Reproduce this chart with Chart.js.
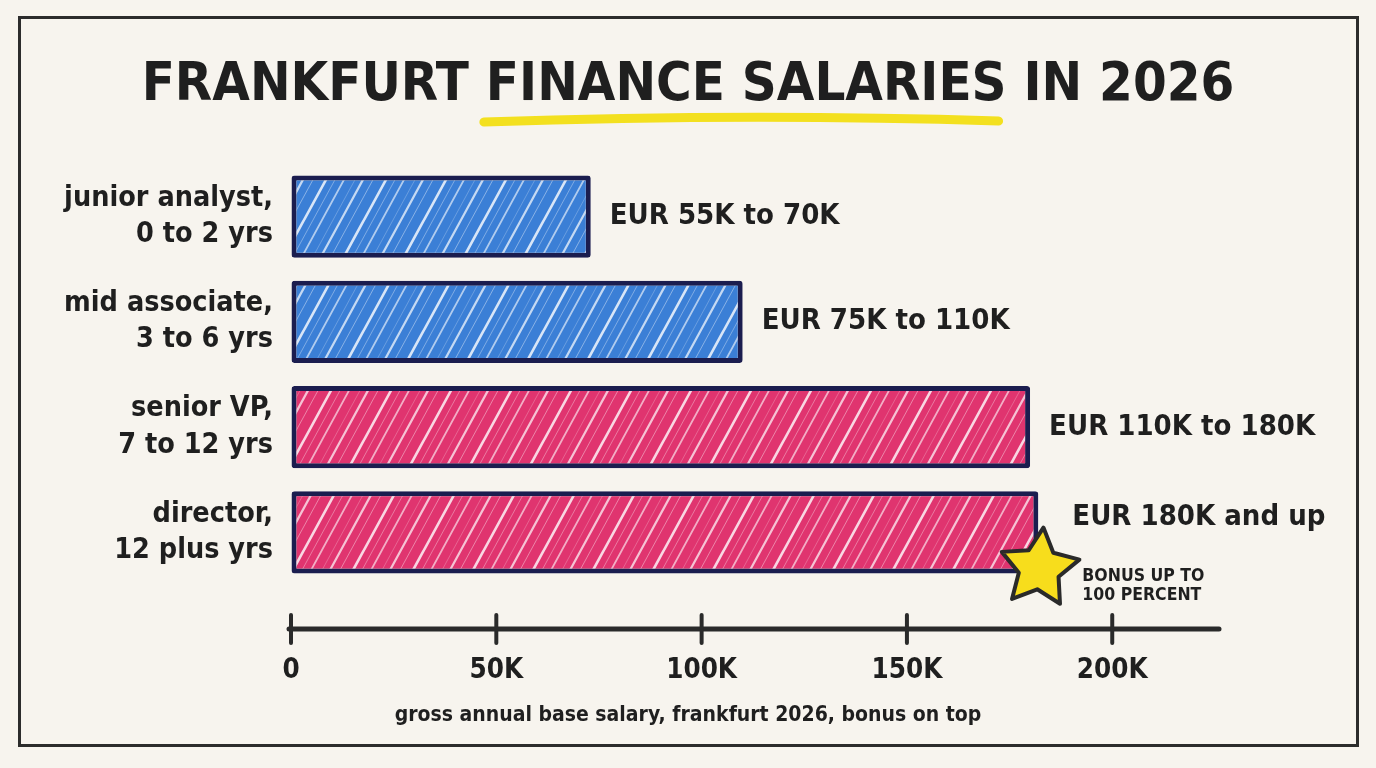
<!DOCTYPE html>
<html>
<head>
<meta charset="utf-8">
<script src="https://cdn.jsdelivr.net/npm/chart.js@4.4.1/dist/chart.umd.min.js"></script>
<style>
    html, body { margin: 0; padding: 0; background: #f7f4ee; }
    #quadro { width: 1376px; height: 768px; }
</style>
</head>
<body>
<div id="quadro"><canvas id="graficoSalarios"></canvas></div>
<script>
// dados do grafico (valores em milhares de EUR)
var categorias = [
    ["junior analyst,", "0 to 2 yrs"],
    ["mid associate,", "3 to 6 yrs"],
    ["senior VP,", "7 to 12 yrs"],
    ["director,", "12 plus yrs"]
];
var salarioBase = [73, 110, 180, 182];
var faixasTexto = ["EUR 55K to 70K", "EUR 75K to 110K", "EUR 110K to 180K", "EUR 180K and up"];
var ticksEixoX = [0, 50, 100, 150, 200];
var notaBonus = ["BONUS UP TO", "100 PERCENT"];
var titulo = "FRANKFURT FINANCE SALARIES IN 2026";
var tituloDestaque = "FINANCE SALARIES";
var rodape = "gross annual base salary, frankfurt 2026, bonus on top";

var fonteTitulo = '"DejaVu Sans Condensed", "DejaVu Sans", sans-serif';
var fonteTexto = '"DejaVu Sans Condensed", "DejaVu Sans", sans-serif';
var corTexto = '#1f1f1f';

// Cria um padrao "rabiscado" (hachura diagonal) para o preenchimento das barras
function criarPadrao(corBase) {
    var c = document.createElement('canvas');
    var w = 60, h = 110;
    c.width = w;
    c.height = h;
    var g = c.getContext('2d');
    g.fillStyle = corBase;
    g.fillRect(0, 0, w, h);
    var tracos = [
        {x: 4, largura: 2.6, alfa: 0.8},
        {x: 13, largura: 1.0, alfa: 0.35},
        {x: 22, largura: 1.8, alfa: 0.6},
        {x: 33, largura: 0.8, alfa: 0.3},
        {x: 41, largura: 2.2, alfa: 0.7},
        {x: 51, largura: 1.0, alfa: 0.4}
    ];
    g.lineCap = 'round';
    tracos.forEach(function(t) {
        g.strokeStyle = 'rgba(255,255,255,' + t.alfa + ')';
        g.lineWidth = t.largura;
        [-w, 0, w].forEach(function(d) {
            g.beginPath();
            g.moveTo(t.x + d, h);
            g.lineTo(t.x + d + w, 0);
            g.stroke();
        });
    });
    return g.createPattern(c, 'repeat');
}

function desenharEstrela(ctx, cx, cy, rExt, rInt, rot) {
    ctx.beginPath();
    for (var i = 0; i < 10; i++) {
        var r = (i % 2 === 0) ? rExt : rInt;
        var ang = rot - Math.PI / 2 + i * Math.PI / 5;
        var px = cx + r * Math.cos(ang);
        var py = cy + r * Math.sin(ang);
        if (i === 0) ctx.moveTo(px, py); else ctx.lineTo(px, py);
    }
    ctx.closePath();
    ctx.fillStyle = '#f7dd1c';
    ctx.fill();
    ctx.lineJoin = 'round';
    ctx.lineWidth = 4;
    ctx.strokeStyle = '#2a2a2a';
    ctx.stroke();
}

// Fundo, moldura, titulo e rodape
var pluginMoldura = {
    id: 'moldura',
    beforeDraw: function(chart) {
        var ctx = chart.ctx;
        ctx.save();
        ctx.fillStyle = '#f7f4ee';
        ctx.fillRect(0, 0, chart.width, chart.height);
        ctx.strokeStyle = '#2c2c2c';
        ctx.lineWidth = 3;
        ctx.strokeRect(19.5, 17.5, 1338, 728);

        // titulo
        var cx = chart.width / 2;
        ctx.font = 'bold 54px ' + fonteTitulo;
        var larguraTotal = ctx.measureText(titulo).width;
        var inicio = titulo.indexOf(tituloDestaque);
        var xIni = cx - larguraTotal / 2 + ctx.measureText(titulo.substring(0, inicio)).width;
        var xFim = xIni + ctx.measureText(tituloDestaque).width;

        // sublinhado amarelo
        ctx.strokeStyle = '#f3e01f';
        ctx.lineWidth = 9;
        ctx.lineCap = 'round';
        ctx.beginPath();
        ctx.moveTo(xIni - 2, 122);
        ctx.quadraticCurveTo((xIni + xFim) / 2, 113, xFim - 8, 121);
        ctx.stroke();

        ctx.fillStyle = corTexto;
        ctx.textAlign = 'center';
        ctx.textBaseline = 'middle';
        ctx.fillText(titulo, cx, 86);

        // rodape
        ctx.font = '600 21px ' + fonteTexto;
        ctx.fillText(rodape, cx, 716);
        ctx.restore();
    }
};

// Eixo X desenhado a mao abaixo das barras + rotulos das faixas + estrela
var pluginAnotacoes = {
    id: 'anotacoes',
    afterDraw: function(chart) {
        var ctx = chart.ctx;
        var area = chart.chartArea;
        var escalaX = chart.scales.x;
        var yEixo = area.bottom + 44;
        ctx.save();
        ctx.strokeStyle = '#2a2a2a';
        ctx.lineCap = 'round';
        ctx.lineWidth = 5;
        ctx.beginPath();
        ctx.moveTo(escalaX.getPixelForValue(0) - 2, yEixo);
        ctx.lineTo(area.right, yEixo);
        ctx.stroke();
        ctx.lineWidth = 4;
        ticksEixoX.forEach(function(v) {
            var x = escalaX.getPixelForValue(v);
            ctx.beginPath();
            ctx.moveTo(x, yEixo - 14);
            ctx.lineTo(x, yEixo + 14);
            ctx.stroke();
        });

        var barras = chart.getDatasetMeta(0).data;
        ctx.fillStyle = corTexto;
        ctx.textAlign = 'left';
        ctx.textBaseline = 'middle';
        ctx.font = '600 29px ' + fonteTexto;
        barras.forEach(function(barra, i) {
            if (i === barras.length - 1) {
                ctx.fillText(faixasTexto[i], barra.x + 34, barra.y - 15);
            } else {
                ctx.fillText(faixasTexto[i], barra.x + 19, barra.y);
            }
        });

        var ultima = barras[barras.length - 1];
        desenharEstrela(ctx, ultima.x + 1, ultima.y + 36, 41, 21, 0.1);
        ctx.fillStyle = corTexto;
        ctx.font = '600 17.5px ' + fonteTexto;
        ctx.fillText(notaBonus[0], ultima.x + 44, ultima.y + 44);
        ctx.fillText(notaBonus[1], ultima.x + 44, ultima.y + 63);
        ctx.restore();
    }
};

function criarGrafico() {
    var azul = criarPadrao('#3b7fd6');
    var rosa = criarPadrao('#e0346f');
    var ctx = document.getElementById('graficoSalarios').getContext('2d');
    var grafico = new Chart(ctx, {
        type: 'bar',
        data: {
            labels: categorias,
            datasets: [{
                data: salarioBase,
                backgroundColor: [azul, azul, rosa, rosa],
                borderColor: '#1b1d4f',
                borderWidth: 5,
                borderRadius: 3,
                borderSkipped: false,
                categoryPercentage: 1,
                barPercentage: 0.78
            }]
        },
        options: {
            indexAxis: 'y',
            responsive: true,
            maintainAspectRatio: false,
            animation: false,
            layout: {
                padding: { top: 164, left: 30, right: 157, bottom: 74 }
            },
            plugins: {
                legend: { display: false },
                tooltip: { enabled: false },
                title: { display: false }
            },
            scales: {
                x: {
                    min: 0,
                    max: 226,
                    border: { display: false },
                    grid: {
                        drawOnChartArea: false,
                        drawTicks: true,
                        tickLength: 62,
                        tickColor: 'rgba(0,0,0,0)'
                    },
                    afterBuildTicks: function(escala) {
                        escala.ticks = ticksEixoX.map(function(v) { return {value: v}; });
                    },
                    ticks: {
                        padding: 7,
                        color: corTexto,
                        font: { family: fonteTexto, size: 27.5, weight: '600' },
                        callback: function(v) { return v === 0 ? '0' : v + 'K'; }
                    }
                },
                y: {
                    border: { display: false },
                    grid: { display: false, drawTicks: false },
                    afterFit: function(escala) { escala.width = 261; },
                    ticks: {
                        padding: 18,
                        color: corTexto,
                        font: { family: fonteTexto, size: 28.5, weight: '600', lineHeight: 1.27 }
                    }
                }
            }
        },
        plugins: [pluginMoldura, pluginAnotacoes]
    });
}

criarGrafico();
</script>
</body>
</html>
